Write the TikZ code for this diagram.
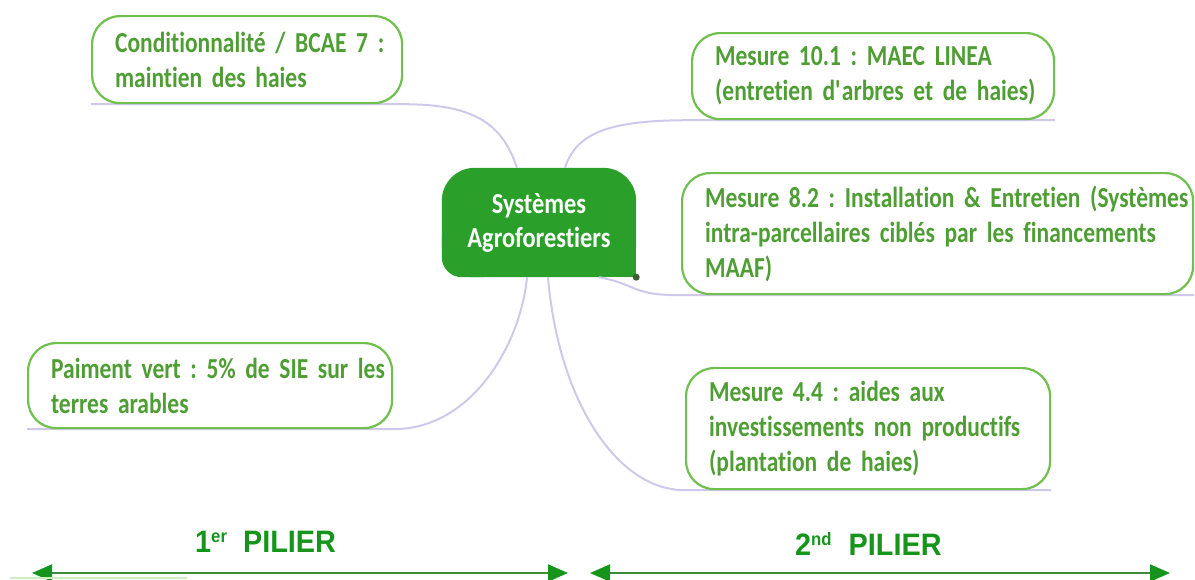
\documentclass[tikz,border=0pt]{standalone}
\usepackage{fontspec}
\setmainfont{Carlito}
\newfontfamily\boxfont[FakeStretch=0.81,Ligatures=NoCommon]{Carlito}
\newfontfamily\ctrfont[FakeStretch=0.84,Ligatures=NoCommon]{Carlito}
\newfontfamily\pilfont[FakeStretch=0.93]{Liberation Sans}
\usetikzlibrary{arrows.meta,backgrounds}
\definecolor{leafline}{RGB}{112,192,78}
\definecolor{leaftext}{RGB}{78,158,52}
\definecolor{ctrfill}{RGB}{42,160,42}
\definecolor{connc}{RGB}{208,200,234}
\definecolor{pilc}{RGB}{22,148,28}
\definecolor{arrline}{RGB}{60,140,60}
\definecolor{dotc}{RGB}{60,95,60}
\definecolor{faint}{RGB}{205,238,195}
\newcommand{\oneline}[1]{\mbox{#1}}
\newcommand{\leaffont}{\boxfont\bfseries\fontsize{29}{35}\selectfont\frenchspacing}
\begin{document}
\frenchspacing
\begin{tikzpicture}[x=1pt,y=-1pt,
  leaf/.style={draw=leafline, line width=2.2pt, fill=white, rounded corners=28pt,
    anchor=north west, inner xsep=23pt, inner ysep=0pt, align=left, text=leaftext,
    font=\leaffont},
  conn/.style={draw=connc, line width=2pt},
  piltext/.style={text=pilc, font=\pilfont\bfseries\fontsize{31}{33}\selectfont,
    inner sep=0pt, anchor=base west},
  pilarrow/.style={draw=arrline, line width=2pt,
    {Triangle[length=20pt,width=17pt,color=pilc]}-{Triangle[length=20pt,width=17pt,color=pilc]}}]
\useasboundingbox (0,0) rectangle (1195,579);

% leaves
\node[leaf, minimum width=310pt, minimum height=87pt, text width=264pt] (b1) at (91,15)
  {\oneline{Conditionnalité / BCAE 7 :}\\\oneline{maintien des haies}};
\node[leaf, minimum width=362pt, minimum height=86pt, text width=316pt] (b2) at (691,32)
  {\oneline{Mesure 10.1 : MAEC LINEA}\\\oneline{(entretien d\textquotesingle arbres et de haies)}};
\node[leaf, minimum width=511pt, minimum height=121pt, text width=465pt] (b3) at (681,172)
  {\oneline{Mesure 8.2 : Installation \& Entretien (Systèmes}\\\oneline{intra-parcellaires ciblés par les financements}\\\oneline{MAAF)}};
\node[leaf, minimum width=364pt, minimum height=85pt, text width=318pt] (b4) at (27,342)
  {\oneline{Paiment vert : 5\% de SIE sur les}\\\oneline{terres arables}};
\node[leaf, minimum width=364pt, minimum height=121pt, text width=318pt] (b5) at (685,367)
  {\oneline{Mesure 4.4 : aides aux}\\\oneline{investissements non productifs}\\\oneline{(plantation de haies)}};

% centre
\node[minimum width=194pt, minimum height=109pt, inner sep=0pt, align=center, text=white,
  font=\ctrfont\bfseries\fontsize{29}{34}\selectfont] (ctr) at (539,222.5)
  {Systèmes\\Agroforestiers};

\begin{scope}[on background layer]
  \fill[ctrfill, rounded corners=33pt] (ctr.south west) rectangle (ctr.north east);
  \fill[ctrfill] (ctr.south east) rectangle ([xshift=-36pt,yshift=36pt]ctr.south east);
  \fill[ctrfill, rounded corners=20pt] (ctr.south west) rectangle ([xshift=60pt,yshift=60pt]ctr.south west);
  \draw[conn] ([xshift=-22pt]ctr.north) .. controls +(-15,-45) and +(70,0) .. (b1.south east) -- (b1.south west);
  \draw[conn] ([xshift=26pt]ctr.north) .. controls +(12,-38) and +(-75,0) .. (b2.south west) -- (b2.south east);
  \draw[conn] ([xshift=-37pt]ctr.south east) .. controls +(40,8) and +(-50,0) .. (b3.south west) -- (b3.south east);
  \draw[conn] ([xshift=-12pt]ctr.south) .. controls +(-6,65) and +(80,0) .. (b4.south east) -- (b4.south west);
  \draw[conn] ([xshift=9pt]ctr.south) .. controls +(10,120) and +(-70,0) .. (b5.south west) -- (b5.south east);
\end{scope}
\fill[dotc] (ctr.south east) circle (3.5pt);

% piliers
\node[piltext] (p1) at (195,552)
  {1\raisebox{10pt}{\fontsize{18}{18}\selectfont er}\hspace{16pt}PILIER};
\node[piltext] (p2) at (795,555)
  {2\raisebox{10pt}{\fontsize{18}{18}\selectfont nd}\hspace{17pt}PILIER};

\coordinate (l1) at (32,573);
\coordinate (r1) at (568,573);
\coordinate (l2) at (590,573);
\coordinate (r2) at (1170,573);
\draw[pilarrow] (l1) -- (r1);
\draw[pilarrow] (l2) -- (r2);
\fill[faint] (10,577) rectangle (187,579);
\end{tikzpicture}
\end{document}
